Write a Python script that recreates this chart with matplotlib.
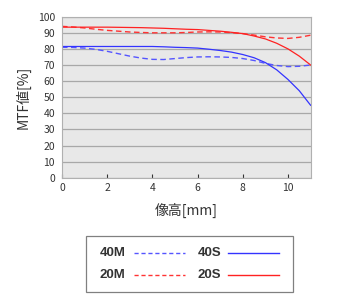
import matplotlib
matplotlib.use("Agg")
import matplotlib.pyplot as plt
from matplotlib.lines import Line2D
from matplotlib.patches import Rectangle

plt.rcParams['font.family'] = ['Noto Sans CJK JP', 'DejaVu Sans']

# image height [mm]
x = [0, 0.5, 1, 1.5, 2, 2.5, 3, 3.5, 4, 4.5, 5, 5.5, 6, 6.5, 7, 7.5, 8, 8.5, 9, 9.5, 10, 10.5, 11]
# MTF values [%]
s20 = [93.5, 93.5, 93.5, 93.5, 93.5, 93.4, 93.3, 93.2, 93.0, 92.8, 92.5, 92.2, 92.0, 91.5, 91.0, 90.3, 89.5, 88.0, 86.2, 83.5, 80.0, 75.5, 70.0]
m20 = [94.0, 93.6, 93.0, 92.2, 91.5, 91.0, 90.5, 90.2, 90.0, 90.0, 90.0, 90.2, 90.5, 90.6, 90.5, 90.1, 89.5, 88.6, 87.5, 86.8, 86.5, 87.2, 88.5]
s40 = [81.5, 81.5, 81.5, 81.5, 81.5, 81.5, 81.5, 81.5, 81.5, 81.3, 81.0, 80.8, 80.5, 79.8, 79.0, 78.0, 76.5, 74.5, 71.5, 67.0, 61.0, 54.0, 45.0]
m40 = [81.0, 80.9, 80.5, 79.7, 78.5, 77.0, 75.5, 74.3, 73.5, 73.4, 74.0, 74.6, 75.0, 75.1, 75.0, 74.7, 74.0, 72.8, 71.0, 69.7, 69.0, 69.2, 70.0]

blue = '#3333ff'
blue_d = '#5555ff'
red = '#ff2222'
red_d = '#ff3333'

fig = plt.figure(figsize=(3.42, 3.05), dpi=100)
ax = fig.add_axes([62 / 342, 1 - 177.7 / 305, 248.6 / 342, 161 / 305])
ax.set_facecolor('#e8e8e8')
ax.set_xlim(0, 11)
ax.set_ylim(0, 100)
ax.set_yticks(range(0, 101, 10))
ax.set_xticks(range(0, 11, 2))
ax.yaxis.grid(True, color='#a8a8a8', linewidth=0.9)
ax.set_axisbelow(True)
for sp in ax.spines.values():
    sp.set_color('#b0b0b0')
    sp.set_linewidth(0.8)
ax.tick_params(axis='x', direction='in', length=3, color='#333333', labelsize=7.5,
               labelcolor='#333333', pad=4)
ax.tick_params(axis='y', length=0, labelsize=7.5, labelcolor='#333333', pad=5)

ax.plot(x, m20, color=red_d, lw=1.0, ls=(0, (4, 2.5)))
ax.plot(x, m40, color=blue_d, lw=1.0, ls=(0, (4, 2.5)))
ax.plot(x, s20, color=red, lw=0.9)
ax.plot(x, s40, color=blue, lw=0.9)

ax.set_ylabel('MTF値[%]', fontsize=10, color='#333333', labelpad=5)
ax.set_xlabel('像高[mm]', fontsize=10, color='#333333', labelpad=7)

# legend box
fig.patches.append(Rectangle((86 / 342, 1 - 292 / 305), 207 / 342, 56 / 305,
                             transform=fig.transFigure, fill=False,
                             edgecolor='#808080', linewidth=0.9))
entries = [('40M', blue_d, (0, (3, 2)), 100, 134, 253), ('40S', blue, '-', 198, 228, 253),
           ('20M', red_d, (0, (3, 2)), 100, 134, 275), ('20S', red, '-', 198, 228, 275)]
for lab, col, ls, px, lx, py in entries:
    fig.text(px / 342, 1 - py / 305, lab, fontsize=9.5, fontweight='bold',
             color='#333333', va='center', ha='left', family=['Liberation Sans'])
    fig.add_artist(Line2D([lx / 342, (lx + 51) / 342], [1 - py / 305, 1 - py / 305],
                          transform=fig.transFigure, color=col, lw=1.0, linestyle=ls))

fig.savefig('out.png', dpi=100)
